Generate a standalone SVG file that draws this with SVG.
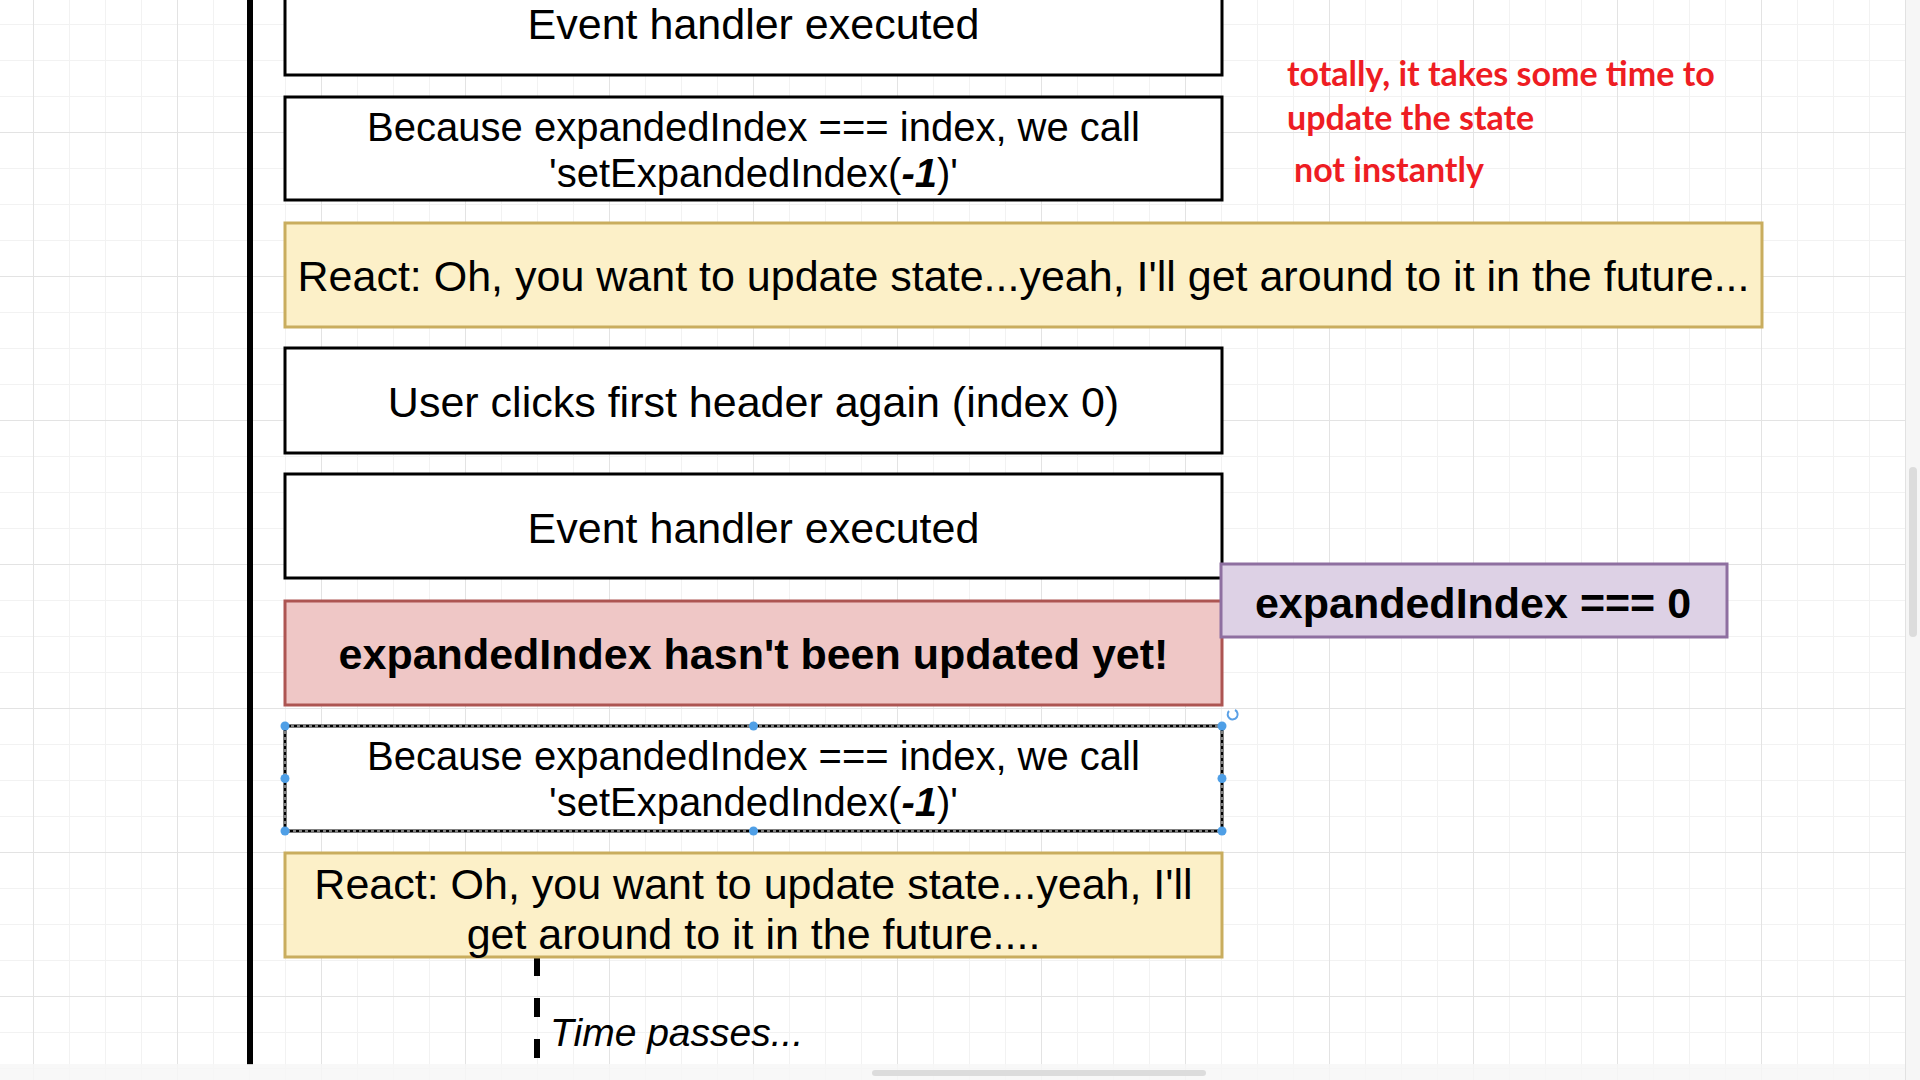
<svg xmlns="http://www.w3.org/2000/svg" width="1920" height="1080" viewBox="0 0 1920 1080">
<style>
.box{fill:#ffffff;stroke:#000000;stroke-width:3}
.yel{fill:#fcf0c8;stroke:#c9ad5e;stroke-width:3}
.red{fill:#efc7c6;stroke:#ad5552;stroke-width:3}
.pur{fill:#ddd1e5;stroke:#8e6fa0;stroke-width:3}
.t{font-family:"Liberation Sans",Arial,Helvetica,sans-serif;font-size:43px;fill:#000;text-anchor:middle}
.t40{font-size:40px}
.b{font-weight:bold}
.note{font-family:Lato,"Open Sans",sans-serif;font-weight:bold;font-size:34px;fill:#ee1d23}
.h{fill:#4f9fe6}
</style>
<defs>
<pattern id="minor" x="33" y="24" width="36" height="36" patternUnits="userSpaceOnUse">
<path d="M0.5 0V36M0 0.5H36" stroke="#f2f2f2" stroke-width="1" fill="none"/>
</pattern>
<pattern id="major" x="33" y="-12" width="144" height="144" patternUnits="userSpaceOnUse">
<path d="M0.5 0V144M0 0.5H144" stroke="#e3e3e3" stroke-width="1" fill="none"/>
</pattern>
</defs>
<rect x="0" y="0" width="1920" height="1080" fill="#ffffff"/>
<rect x="0" y="0" width="1905" height="1080" fill="url(#minor)"/>
<rect x="0" y="0" width="1905" height="1080" fill="url(#major)"/>
<rect x="1905" y="0" width="15" height="1080" fill="#f6f6f6"/>
<line x1="1905.5" y1="0" x2="1905.5" y2="1080" stroke="#e2e2e2"/>
<rect x="1909" y="467" width="8" height="170" rx="4" fill="#dcdcdc"/>

<g id="connectors">
<line x1="250" y1="0" x2="250" y2="1065" stroke="#000" stroke-width="6"/>
<line x1="537" y1="957" x2="537" y2="1062" stroke="#000" stroke-width="6" stroke-dasharray="19 22"/>
</g>

<g id="n1"><rect class="box" x="285" y="-30" width="937" height="105"/>
<text class="t" x="753.5" y="39">Event handler executed</text></g>

<g id="n2"><rect class="box" x="285" y="97" width="937" height="103"/>
<text class="t t40" x="753.5" y="141">Because expandedIndex === index, we call</text>
<text class="t t40" x="753.5" y="187">'setExpandedIndex(<tspan font-weight="bold" font-style="italic">-1</tspan>)'</text></g>

<g id="n3"><rect class="yel" x="285" y="223" width="1477" height="104"/>
<text class="t" x="1023.5" y="291">React: Oh, you want to update state...yeah, I'll get around to it in the future...</text></g>

<g id="n4"><rect class="box" x="285" y="348" width="937" height="105"/>
<text class="t" x="753.5" y="417">User clicks first header again (index 0)</text></g>

<g id="n5"><rect class="box" x="285" y="474" width="937" height="104"/>
<text class="t" x="753.5" y="543">Event handler executed</text></g>

<g id="n6"><rect class="red" x="285" y="601" width="937" height="104"/>
<text class="t b" x="753.5" y="669">expandedIndex hasn't been updated yet!</text></g>

<g id="n7"><rect class="pur" x="1221" y="564" width="506" height="73"/>
<text class="t b" x="1473" y="618">expandedIndex === 0</text></g>

<g id="n8"><rect class="box" x="285" y="726" width="937" height="105"/>
<rect x="285" y="726" width="937" height="105" fill="none" stroke="#ffffff" stroke-width="1" stroke-dasharray="3 3"/>
<text class="t t40" x="753.5" y="770">Because expandedIndex === index, we call</text>
<text class="t t40" x="753.5" y="816">'setExpandedIndex(<tspan font-weight="bold" font-style="italic">-1</tspan>)'</text>
<circle class="h" cx="285" cy="726" r="4.5"/><circle class="h" cx="753.5" cy="726" r="4.5"/><circle class="h" cx="1222" cy="726" r="4.5"/>
<circle class="h" cx="285" cy="778.5" r="4.5"/><circle class="h" cx="1222" cy="778.5" r="4.5"/>
<circle class="h" cx="285" cy="831" r="4.5"/><circle class="h" cx="753.5" cy="831" r="4.5"/><circle class="h" cx="1222" cy="831" r="4.5"/>
<path d="M1229 711a5 5 0 1 0 6 -1" fill="none" stroke="#5aa0e6" stroke-width="2"/>
</g>

<g id="n9"><rect class="yel" x="285" y="853" width="937" height="104"/>
<text class="t" x="753.5" y="899">React: Oh, you want to update state...yeah, I'll</text>
<text class="t" x="753.5" y="949">get around to it in the future....</text></g>

<g id="n10"><text x="550" y="1046" font-family="Liberation Sans,Arial,sans-serif" font-style="italic" font-size="39">Time passes...</text></g>

<g id="notes">
<text class="note" x="1287" y="86">totally, it takes some time to</text>
<text class="note" x="1287" y="130">update the state</text>
<text class="note" x="1294" y="182">not instantly</text>
</g>
<rect x="0" y="1064" width="1905" height="16" fill="#f7f7f7" opacity="0.85"/>
<rect x="872" y="1070" width="334" height="6" rx="3" fill="#dcdcdc"/>
</svg>
